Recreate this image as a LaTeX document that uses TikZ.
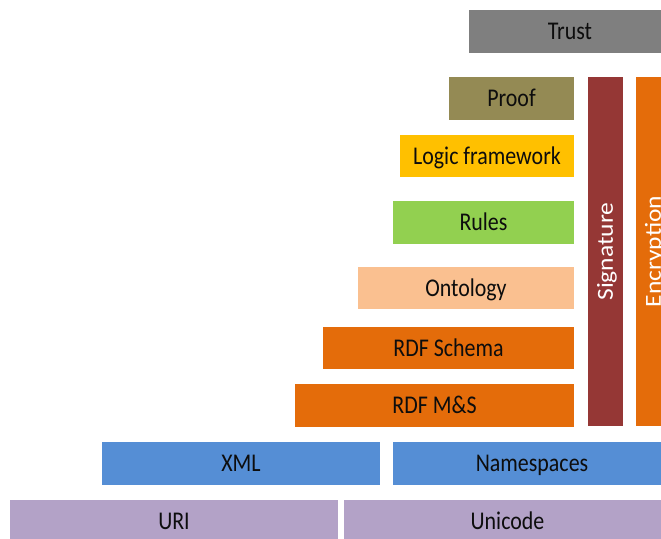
\documentclass[tikz,border=0pt]{standalone}
\usepackage{fontspec}
\usepackage{graphicx}
\setmainfont{Carlito}[FakeStretch=0.86]
\newfontfamily\barfont{Carlito}
\definecolor{trustgray}{HTML}{7F7F7F}
\definecolor{proofolive}{HTML}{948A54}
\definecolor{logicgold}{HTML}{FFC000}
\definecolor{rulesgreen}{HTML}{92D050}
\definecolor{ontopeach}{HTML}{FAC090}
\definecolor{rdforange}{HTML}{E46C0A}
\definecolor{sigred}{HTML}{953735}
\definecolor{xmlblue}{HTML}{558ED5}
\definecolor{urililac}{HTML}{B3A2C7}
\begin{document}
\begin{tikzpicture}[x=1pt,y=-1pt,
  layer/.style={draw=none, inner sep=0pt, outer sep=0pt,
    font=\fontsize{25.5}{30}\selectfont, text=black!95,
    text height=16.4pt, text depth=0pt, minimum height=43},
  pillar/.style={layer, rotate=90, text=white,
    font=\barfont\fontsize{25.5}{30}\selectfont,
    text height=14.8pt,
    minimum width=349, minimum height=35},
]
\useasboundingbox (0,0) rectangle (661,538);
\clip (0,0) rectangle (661,538);

% upper layers
\node[layer, fill=trustgray,  minimum width=202] (trust) at (570,31.5) {Trust};
\node[layer, fill=proofolive, minimum width=125] (proof) at (511.5,98.5) {Proof};
\node[layer, fill=logicgold,  minimum width=174, minimum height=42] (logic) at (487,156) {Logic framework};
\node[layer, fill=rulesgreen, minimum width=181] (rules) at (483.5,222.5) {Rules};
\node[layer, fill=ontopeach,  minimum width=216, minimum height=42] (onto) at (466,288) {Ontology};
\node[layer, fill=rdforange,  minimum width=251, minimum height=42] (rdfs) at (448.5,348) {RDF Schema};
\node[layer, fill=rdforange,  minimum width=279] (rdfms) at (434.5,405.5) {RDF M\&S};

% vertical security pillars
\node[pillar, fill=sigred]    (sig) at (605.5,251.5) {\scalebox{1}[0.9]{Signature}};
\node[pillar, fill=rdforange] (enc) at (653.5,251.5) {\scalebox{1}[0.9]{Encryption}};

% base layers
\node[layer, fill=xmlblue,  minimum width=278] (xml) at (241,463.5) {XML};
\node[layer, fill=xmlblue,  minimum width=278] (ns)  at (532,463.5) {Namespaces};
\node[layer, fill=urililac, minimum width=328] (uri) at (174,521.5) {URI};
\node[layer, fill=urililac, minimum width=327] (uni) at (507.5,521.5) {Unicode};
\end{tikzpicture}
\end{document}
